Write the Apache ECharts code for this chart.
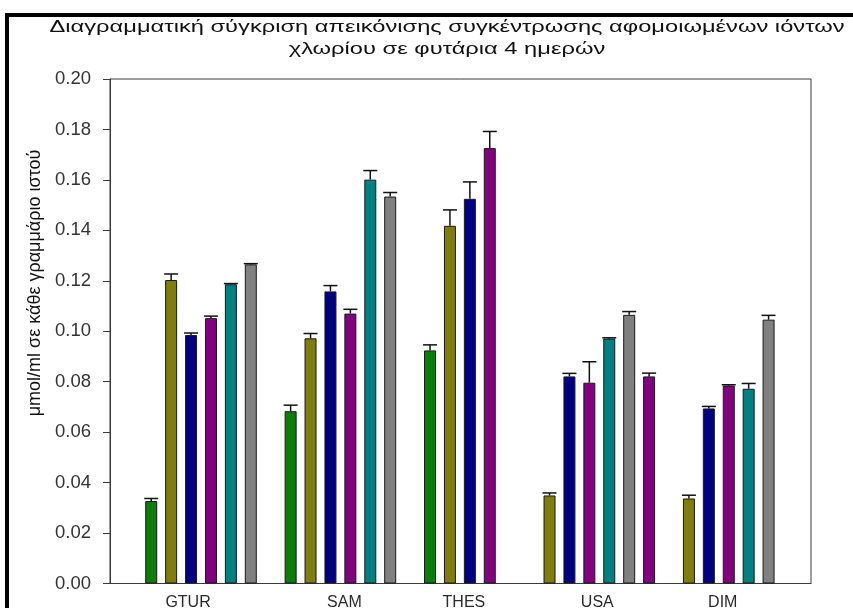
<!DOCTYPE html>
<html>
<head>
<meta charset="utf-8">
<title>Χλωριόντα σε φυτάρια</title>
<script src="https://cdn.jsdelivr.net/npm/echarts@6/dist/echarts.min.js"></script>
<style>
  html, body { margin: 0; padding: 0; background: #ffffff; }
  #chart { width: 853px; height: 608px; }
</style>
</head>
<body>
<div id="chart"></div>
<script>
// Sample groups (x-axis categories)
const categories = ['GTUR', 'SAM', 'THES', 'USA', 'DIM'];

// Colour key of every bar inside each group, left to right
const barKeys = [
  ['green', 'olive', 'navy', 'purple', 'teal', 'gray'],
  ['green', 'olive', 'navy', 'purple', 'teal', 'gray'],
  ['green', 'olive', 'navy', 'purple'],
  ['olive', 'navy', 'purple', 'teal', 'gray', 'purple'],
  ['olive', 'navy', 'purple', 'teal', 'gray']
];

// Mean chloride concentration (μmol/ml per gram of tissue)
const means = [
  [0.0327, 0.1203, 0.0985, 0.1052, 0.1186, 0.1265],
  [0.0683, 0.0972, 0.1158, 0.1070, 0.1601, 0.1534],
  [0.0924, 0.1418, 0.1525, 0.1726],
  [0.0349, 0.0821, 0.0796, 0.0971, 0.1065, 0.0821],
  [0.0337, 0.0694, 0.0785, 0.0772, 0.1046]
];

// Standard error (upper whisker)
const errors = [
  [0.0010, 0.0024, 0.0008, 0.0008, 0.0003, 0.0003],
  [0.0024, 0.0019, 0.0023, 0.0017, 0.0036, 0.0016],
  [0.0022, 0.0063, 0.0067, 0.0066],
  [0.0010, 0.0012, 0.0083, 0.0003, 0.0013, 0.0013],
  [0.0013, 0.0008, 0.0003, 0.0021, 0.0017]
];

// Y-axis ticks
const yTicks = [0, 0.02, 0.04, 0.06, 0.08, 0.10, 0.12, 0.14, 0.16, 0.18, 0.20];

// Title lines and axis name
const titleLines = [
  'Διαγραμματική σύγκριση απεικόνισης συγκέντρωσης αφομοιωμένων ιόντων',
  'χλωρίου σε φυτάρια 4 ημερών'
];
const yAxisName = 'μmol/ml σε κάθε γραμμάριο ιστού';

// Fill colours
const palette = {
  green: '#0b7d0b',
  olive: '#7f7d0c',
  navy: '#000080',
  purple: '#800080',
  teal: '#008080',
  gray: '#808080'
};

// Layout: empty slots after each group, label nudges (in slot units)
const gapAfter = [1, 1, 2, 1, 0];
const labelNudge = [-0.65, 0.2, 0.2, -0.1, -0.3];

// Build the slot positions of every bar
const barData = [];
const errData = [];
const labelPos = [];
let start = 0;
categories.forEach((name, g) => {
  const n = means[g].length;
  means[g].forEach((v, i) => {
    const slot = start + i;
    barData.push({
      value: [slot, v],
      itemStyle: { color: palette[barKeys[g][i]] }
    });
    errData.push([slot, v, v + errors[g][i]]);
  });
  labelPos.push(start + (n - 1) / 2 + labelNudge[g]);
  start += n + gapAfter[g];
});

// The heading is set in a wide, stretched sans face: measure the first
// line and stretch it horizontally to span the header.
const titleFont = '17px "Liberation Sans", Arial, sans-serif';
const measureCtx = document.createElement('canvas').getContext('2d');
measureCtx.font = titleFont;
const titleStretch = 795 / measureCtx.measureText(titleLines[0]).width;

const chart = echarts.init(document.getElementById('chart'), null, { renderer: 'canvas' });

function titleText(line, y) {
  return {
    type: 'text',
    x: 447,
    y: y,
    scaleX: titleStretch,
    style: {
      text: line,
      font: titleFont,
      fill: '#111111',
      align: 'center',
      verticalAlign: 'middle'
    }
  };
}

chart.setOption({
  backgroundColor: '#ffffff',
  animation: false,
  grid: {
    left: 110,
    right: 42,
    top: 79,
    bottom: 24.5,
    containLabel: false,
    outerBoundsMode: 'none',
    show: true,
    borderColor: '#3a3a3a',
    borderWidth: 1,
    backgroundColor: 'transparent'
  },
  xAxis: {
    type: 'value',
    min: -2.07,
    max: 33.13,
    splitLine: { show: false },
    axisLine: { show: true, onZero: false, lineStyle: { color: '#3a3a3a', width: 1 } },
    axisTick: { show: false },
    axisLabel: {
      customValues: labelPos,
      margin: 11,
      fontFamily: 'Liberation Sans, Arial',
      fontSize: 16,
      color: '#2a2a2a',
      formatter: function (val) {
        let best = 0;
        labelPos.forEach((p, i) => {
          if (Math.abs(p - val) < Math.abs(labelPos[best] - val)) best = i;
        });
        return categories[best];
      }
    }
  },
  yAxis: {
    type: 'value',
    min: yTicks[0],
    max: yTicks[yTicks.length - 1],
    interval: 0.02,
    splitLine: { show: false },
    axisLine: { show: true, onZero: false, lineStyle: { color: '#3a3a3a', width: 1 } },
    axisTick: { show: true, inside: false, length: 7, lineStyle: { color: '#3a3a3a' } },
    axisLabel: {
      margin: 19,
      fontFamily: 'Liberation Sans, Arial',
      fontSize: 18.5,
      color: '#333333',
      formatter: v => v.toFixed(2)
    }
  },
  graphic: [
    titleText(titleLines[0], 27),
    titleText(titleLines[1], 49),
    {
      type: 'text',
      x: 35,
      y: 283,
      rotation: Math.PI / 2,
      style: {
        text: yAxisName,
        fontFamily: 'Liberation Sans, Arial',
        fontSize: 18,
        fill: '#111111',
        align: 'center',
        verticalAlign: 'middle'
      }
    },
    {
      type: 'rect',
      shape: { x: 5, y: 13, width: 848, height: 4 },
      style: { fill: '#000000' }
    },
    {
      type: 'rect',
      shape: { x: 5, y: 13, width: 4, height: 595 },
      style: { fill: '#000000' }
    }
  ],
  series: [
    {
      type: 'bar',
      data: barData,
      barWidth: 12,
      itemStyle: { borderColor: '#1a1a1a', borderWidth: 1 }
    },
    {
      type: 'custom',
      data: errData,
      z: 5,
      renderItem: function (params, api) {
        const x = api.coord([api.value(0), api.value(1)]);
        const top = api.coord([api.value(0), api.value(2)]);
        const cap = 7;
        const style = { stroke: '#111111', lineWidth: 1.5 };
        return {
          type: 'group',
          children: [
            { type: 'line', shape: { x1: x[0], y1: x[1], x2: top[0], y2: top[1] }, style: style },
            { type: 'line', shape: { x1: top[0] - cap, y1: top[1], x2: top[0] + cap, y2: top[1] }, style: style }
          ]
        };
      }
    }
  ]
});
</script>
</body>
</html>
